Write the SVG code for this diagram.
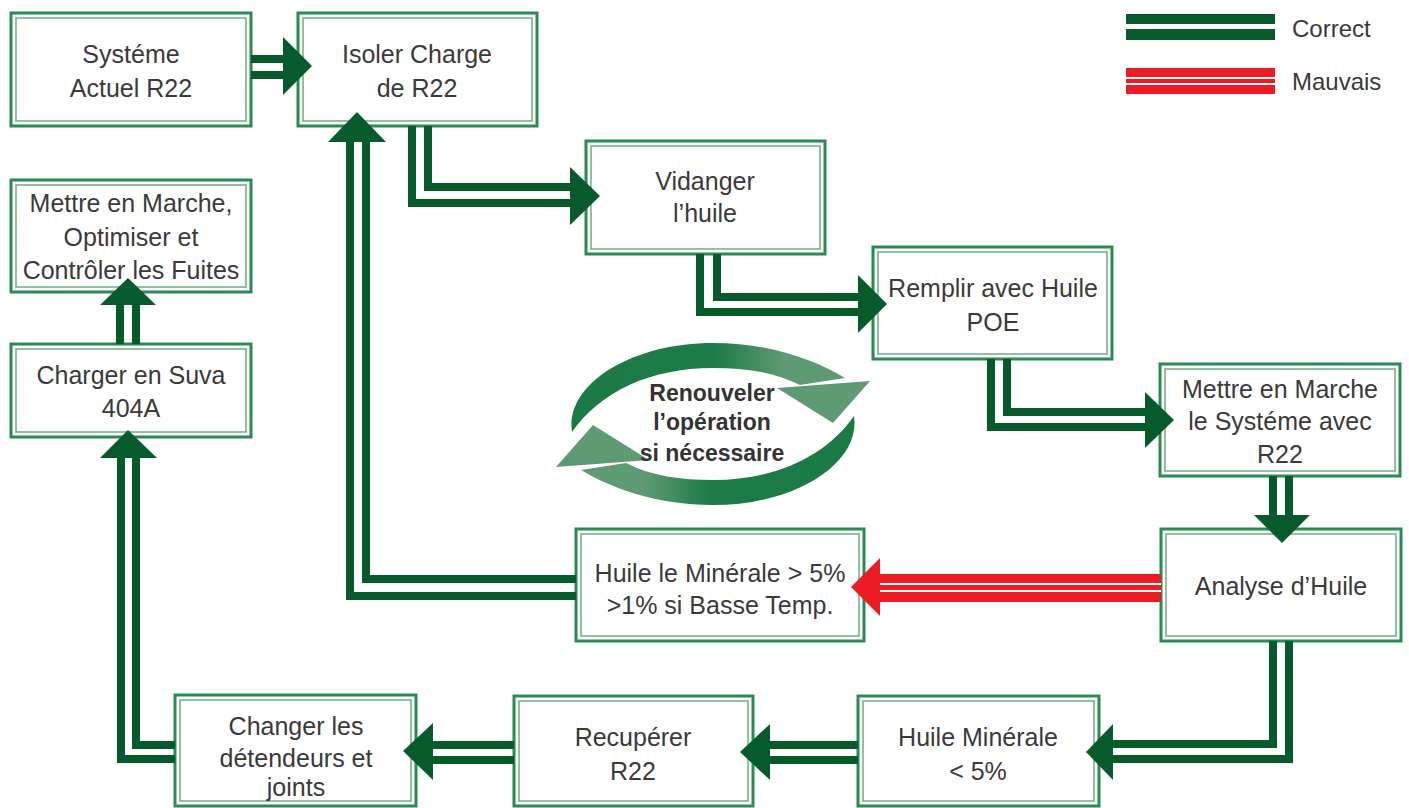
<svg xmlns="http://www.w3.org/2000/svg" width="1409" height="808" viewBox="0 0 1409 808">
<defs>
<style>
.bo{fill:#fff;stroke:#2b8a52;stroke-width:3}
.bi{fill:none;stroke:#6cab85;stroke-width:1.5}
.t{font-family:"Liberation Sans",Arial,sans-serif;font-size:25px;fill:#3a3a3a;text-anchor:middle}
.lg{font-family:"Liberation Sans",Arial,sans-serif;font-size:24px;fill:#3a3a3a}
.ct{font-family:"Liberation Sans",Arial,sans-serif;font-size:23px;font-weight:bold;fill:#333;text-anchor:middle}
.ln{fill:none;stroke:#075a2b;stroke-width:8;stroke-linejoin:miter}
.ah{fill:#075a2b}
.rd{fill:#ed1c24}
</style>
<linearGradient id="cg" gradientUnits="userSpaceOnUse" x1="560" y1="0" x2="870" y2="0">
<stop offset="0" stop-color="#1a7a45"/>
<stop offset="0.5" stop-color="#1d7b47"/>
<stop offset="0.72" stop-color="#5e9a74"/>
<stop offset="1" stop-color="#5e9a74"/>
</linearGradient>
</defs>
<rect width="1409" height="808" fill="#fff"/>

<g id="n1"><rect class="bo" x="11" y="13" width="240" height="113"/><rect class="bi" x="16" y="18" width="230" height="103"/>
<text class="t" x="131" y="63">Systéme</text><text class="t" x="131" y="97">Actuel R22</text></g>

<g id="n2"><rect class="bo" x="298" y="13" width="239" height="113"/><rect class="bi" x="303" y="18" width="229" height="103"/>
<text class="t" x="417" y="63">Isoler Charge</text><text class="t" x="417" y="97">de R22</text></g>

<g id="n3"><rect class="bo" x="11" y="180" width="240" height="112"/><rect class="bi" x="16" y="185" width="230" height="102"/>
<text class="t" x="131" y="212">Mettre en Marche,</text><text class="t" x="131" y="246">Optimiser et</text><text class="t" x="131" y="279">Contrôler les Fuites</text></g>

<g id="n4"><rect class="bo" x="11" y="344" width="240" height="93"/><rect class="bi" x="16" y="349" width="230" height="83"/>
<text class="t" x="131" y="384">Charger en Suva</text><text class="t" x="131" y="417">404A</text></g>

<g id="n5"><rect class="bo" x="586" y="141" width="239" height="113"/><rect class="bi" x="591" y="146" width="229" height="103"/>
<text class="t" x="705" y="190">Vidanger</text><text class="t" x="705" y="222">l’huile</text></g>

<g id="n6"><rect class="bo" x="873" y="247" width="239" height="112"/><rect class="bi" x="878" y="252" width="229" height="102"/>
<text class="t" x="993" y="297">Remplir avec Huile</text><text class="t" x="993" y="331">POE</text></g>

<g id="n7"><rect class="bo" x="1160" y="364" width="240" height="112"/><rect class="bi" x="1165" y="369" width="230" height="102"/>
<text class="t" x="1280" y="398">Mettre en Marche</text><text class="t" x="1280" y="430">le Systéme avec</text><text class="t" x="1280" y="463">R22</text></g>

<g id="n8"><rect class="bo" x="1161" y="529" width="240" height="112"/><rect class="bi" x="1166" y="534" width="230" height="102"/>
<text class="t" x="1281" y="595">Analyse d’Huile</text></g>

<g id="n9"><rect class="bo" x="576" y="529" width="288" height="112"/><rect class="bi" x="581" y="534" width="278" height="102"/>
<text class="t" x="720" y="582">Huile le Minérale &gt; 5%</text><text class="t" x="720" y="614">&gt;1% si Basse Temp.</text></g>

<g id="n10"><rect class="bo" x="858" y="696" width="241" height="110"/><rect class="bi" x="863" y="701" width="231" height="100"/>
<text class="t" x="978" y="746">Huile Minérale</text><text class="t" x="978" y="780">&lt; 5%</text></g>

<g id="n11"><rect class="bo" x="514" y="696" width="239" height="110"/><rect class="bi" x="519" y="701" width="229" height="100"/>
<text class="t" x="633" y="746">Recupérer</text><text class="t" x="633" y="780">R22</text></g>

<g id="n12"><rect class="bo" x="175" y="695" width="241" height="111"/><rect class="bi" x="180" y="700" width="231" height="101"/>
<text class="t" x="296" y="735">Changer les</text><text class="t" x="296" y="767">détendeurs et</text><text class="t" x="296" y="796">joints</text></g>

<g id="cycle">
<g id="arcTop">
<path fill="url(#cg)" d="M572,432 C565,385 630,343 713,343 C770,343 815,360 845,378 L800,385 C775,372 745,368 713,368 C650,368 600,392 572,432 Z"/>
<polygon fill="#5e9a74" points="777,388 870,381 833,423"/>
</g>
<g id="arcBottom" transform="rotate(180 713 424)">
<path fill="url(#cg)" d="M572,432 C565,385 630,343 713,343 C770,343 815,360 845,378 L800,385 C775,372 745,368 713,368 C650,368 600,392 572,432 Z"/>
<polygon fill="#5e9a74" points="777,388 870,381 833,423"/>
</g>
<text class="ct" x="712" y="401">Renouveler</text>
<text class="ct" x="712" y="430">l’opération</text>
<text class="ct" x="712" y="461">si nécessaire</text>
</g>

<g id="connectors">
<!-- n1 -> n2 -->
<path class="ln" d="M251,59 H286 M251,75 H286"/>
<polygon class="ah" points="283,37 312,66 283,95"/>
<!-- n2 -> n5 -->
<path class="ln" d="M412,126 V203 H572 M428,126 V187 H572"/>
<polygon class="ah" points="570,167 600,196 570,225"/>
<!-- n5 -> n6 -->
<path class="ln" d="M700,254 V312 H860 M717,254 V297 H860"/>
<polygon class="ah" points="858,275 887,304 858,333"/>
<!-- n6 -> n7 -->
<path class="ln" d="M991,359 V427 H1147 M1007,359 V412 H1147"/>
<polygon class="ah" points="1145,392 1174,420 1145,448"/>
<!-- n7 -> n8 -->
<path class="ln" d="M1273,476 V517 M1289,476 V517"/>
<polygon class="ah" points="1254,515 1310,515 1282,543"/>
<!-- n8 -> n10 -->
<path class="ln" d="M1273,641 V744 H1111 M1289,641 V759 H1111"/>
<polygon class="ah" points="1113,724 1086,752 1113,780"/>
<!-- n10 -> n11 -->
<path class="ln" d="M858,745 H768 M858,760 H768"/>
<polygon class="ah" points="770,724 740,752 770,780"/>
<!-- n11 -> n12 -->
<path class="ln" d="M514,745 H431 M514,760 H431"/>
<polygon class="ah" points="433,723 403,751 433,780"/>
<!-- n12 -> n4 -->
<path class="ln" d="M175,759 H121 V456 M175,745 H136 V456"/>
<polygon class="ah" points="100,458 157,458 128,430"/>
<!-- n4 -> n3 -->
<path class="ln" d="M120,344 V303 M136,344 V303"/>
<polygon class="ah" points="100,305 156,305 128,278"/>
<!-- n9 -> n2 -->
<path class="ln" d="M576,596 H350 V140 M576,579 H366 V140"/>
<polygon class="ah" points="328,142 386,142 357,112"/>
<!-- n8 -> n9 (red) -->
<rect class="rd" x="878" y="574" width="283" height="28"/>
<rect fill="#fff" x="878" y="583" width="283" height="2"/>
<rect fill="#fff" x="878" y="590" width="283" height="2"/>
<polygon class="rd" points="880,558 851,587 880,616"/>
</g>

<g id="legend">
<rect x="1126" y="14" width="149" height="10" fill="#075a2b"/>
<rect x="1126" y="29" width="149" height="11" fill="#075a2b"/>
<text class="lg" x="1292" y="37">Correct</text>
<rect x="1126" y="68" width="149" height="26" fill="#ed1c24"/>
<rect x="1126" y="77" width="149" height="2" fill="#fff"/>
<rect x="1126" y="83" width="149" height="2" fill="#fff"/>
<text class="lg" x="1292" y="90">Mauvais</text>
</g>
</svg>
